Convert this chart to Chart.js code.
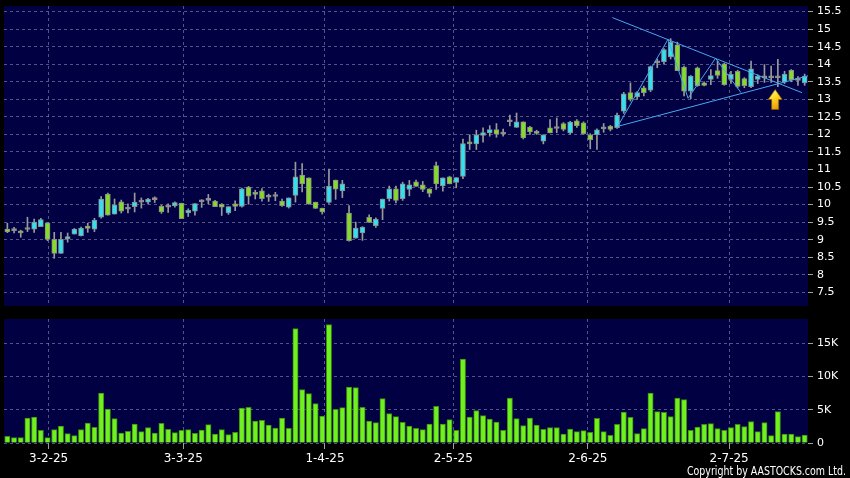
<!DOCTYPE html>
<html>
<head>
<meta charset="utf-8">
<script src="https://cdn.jsdelivr.net/npm/chart.js@4.4.1/dist/chart.umd.min.js"></script>
<style>
  html, body { margin: 0; padding: 0; background: #000; }
  #wrap { position: relative; width: 850px; height: 478px; background: #000; overflow: hidden; }
  #priceBox { position: absolute; left: 0; top: 0; width: 850px; height: 310px; }
  #volBox { position: absolute; left: 0; top: 310px; width: 850px; height: 168px; }
</style>
</head>
<body>
<div id="wrap">
  <div id="priceBox"><canvas id="priceChart" width="850" height="310"></canvas></div>
  <div id="volBox"><canvas id="volChart" width="850" height="168"></canvas></div>
</div>
<script>
// ---- data (daily candles, 21 Jan 2025 - mid Jul 2025) ----
const opens = [
  9.30, 9.26, 9.25, 9.29, 9.30, 9.37, 9.48, 9.01, 8.61, 9.02,
  9.16, 9.11, 9.39, 9.30, 9.64, 10.30, 9.73, 10.08, 9.87, 9.94,
  10.07, 10.07, 10.14, 9.95, 9.93, 9.96, 10.04, 9.76, 9.81, 10.08,
  10.12, 10.10, 10.01, 9.76, 10.02, 9.95, 10.50, 10.31, 10.39, 10.21,
  10.23, 10.10, 9.93, 10.26, 10.84, 10.76, 10.07, 9.90, 10.06, 10.70,
  10.39, 9.76, 9.04, 9.19, 9.64, 9.40, 9.89, 10.17, 10.45, 10.17,
  10.43, 10.65, 10.56, 10.45, 11.11, 10.53, 10.79, 10.63, 10.80, 11.78,
  11.73, 11.97, 12.04, 12.14, 12.01, 12.36, 12.20, 12.36, 12.21, 12.06,
  11.81, 12.19, 12.17, 12.31, 12.04, 12.39, 12.33, 11.99, 11.99, 12.16,
  12.23, 12.19, 12.66, 13.19, 13.07, 13.33, 13.26, 14.04, 14.07, 14.21,
  14.55, 13.92, 13.23, 13.90, 13.47, 13.57, 13.82, 14.01, 13.57, 13.80,
  13.59, 13.36, 13.57, 13.61, 13.61, 13.61, 13.49, 13.83, 13.54, 13.47
];
const highs = [
  9.47, 9.35, 9.27, 9.64, 9.59, 9.61, 9.48, 9.21, 9.21, 9.19,
  9.32, 9.36, 9.47, 9.61, 10.23, 10.33, 10.16, 10.13, 10.02, 10.33,
  10.19, 10.18, 10.22, 9.98, 10.02, 10.08, 10.04, 9.88, 10.03, 10.14,
  10.29, 10.12, 10.03, 9.94, 10.11, 10.47, 10.52, 10.41, 10.46, 10.30,
  10.35, 10.16, 10.19, 11.21, 11.17, 10.76, 10.07, 9.90, 11.01, 10.70,
  10.69, 9.97, 9.50, 9.37, 9.71, 9.62, 10.16, 10.53, 10.53, 10.64,
  10.69, 10.70, 10.66, 10.45, 11.21, 10.76, 10.81, 10.77, 11.87, 11.99,
  12.12, 12.19, 12.25, 12.31, 12.15, 12.55, 12.61, 12.36, 12.23, 12.12,
  11.99, 12.42, 12.47, 12.34, 12.37, 12.42, 12.36, 12.02, 12.16, 12.31,
  12.26, 12.61, 13.20, 13.47, 13.22, 13.38, 13.95, 14.15, 14.45, 14.73,
  14.63, 13.95, 13.68, 13.92, 13.50, 13.85, 14.09, 14.03, 13.80, 13.83,
  13.62, 14.09, 13.70, 13.99, 13.95, 14.14, 13.80, 13.85, 13.65, 13.72
];
const lows = [
  9.20, 9.19, 9.07, 9.23, 9.21, 9.37, 8.97, 8.47, 8.61, 8.93,
  9.16, 9.11, 9.21, 9.23, 9.61, 9.70, 9.73, 9.76, 9.76, 9.79,
  9.90, 10.02, 10.06, 9.75, 9.78, 9.93, 9.60, 9.66, 9.70, 9.92,
  10.02, 9.94, 9.69, 9.72, 9.83, 9.93, 10.01, 10.16, 10.10, 10.09,
  10.11, 9.95, 9.90, 10.07, 10.36, 10.01, 9.89, 9.73, 10.03, 10.15,
  10.20, 8.96, 9.04, 8.98, 9.49, 9.35, 9.57, 10.10, 10.05, 10.12,
  10.25, 10.52, 10.37, 10.22, 10.43, 10.38, 10.59, 10.48, 10.74, 11.57,
  11.57, 11.78, 11.95, 11.92, 11.95, 12.24, 12.20, 11.87, 12.00, 12.00,
  11.73, 12.04, 12.05, 12.10, 12.01, 12.20, 12.00, 11.59, 11.57, 12.06,
  12.10, 12.17, 12.60, 12.95, 13.00, 13.10, 13.22, 13.90, 14.00, 14.15,
  13.82, 13.10, 13.02, 13.37, 13.38, 13.42, 13.60, 13.40, 13.45, 13.33,
  13.33, 13.33, 13.45, 13.48, 13.48, 13.36, 13.45, 13.50, 13.40, 13.40
];
const closes = [
  9.22, 9.26, 9.19, 9.29, 9.50, 9.57, 9.01, 8.61, 9.01, 9.09,
  9.30, 9.33, 9.32, 9.56, 10.16, 9.70, 9.99, 9.81, 9.87, 10.07,
  10.07, 10.16, 10.14, 9.79, 9.93, 10.06, 9.60, 9.84, 10.03, 10.08,
  10.12, 9.94, 9.93, 9.94, 9.95, 10.45, 10.24, 10.29, 10.17, 10.21,
  10.23, 9.97, 10.19, 10.79, 10.59, 10.01, 9.89, 9.79, 10.53, 10.44,
  10.59, 8.97, 9.33, 9.36, 9.49, 9.59, 10.16, 10.45, 10.12, 10.59,
  10.56, 10.52, 10.43, 10.32, 10.59, 10.76, 10.59, 10.77, 11.74, 11.73,
  11.99, 12.05, 12.14, 12.01, 12.01, 12.36, 12.36, 11.90, 12.07, 12.03,
  11.99, 12.04, 12.17, 12.14, 12.35, 12.25, 12.02, 11.85, 12.13, 12.16,
  12.14, 12.55, 13.16, 13.00, 13.19, 13.19, 13.93, 14.04, 14.42, 14.63,
  13.82, 13.23, 13.66, 13.39, 13.40, 13.68, 13.68, 13.42, 13.71, 13.37,
  13.39, 13.87, 13.66, 13.61, 13.61, 13.61, 13.72, 13.55, 13.54, 13.66
];
const volumes = [
  1000, 800, 800, 3750, 3900, 1900, 800, 2000, 2550, 1400,
  1100, 2000, 3000, 2350, 7500, 5100, 3650, 1500, 1750, 2850,
  1700, 2300, 1500, 2950, 2050, 1550, 1900, 2000, 1450, 1950,
  2750, 1350, 2000, 1250, 1600, 5250, 5350, 3300, 3400, 2700,
  2250, 3750, 2200, 17150, 8000, 7400, 5900, 4050, 17750, 5050,
  5300, 8400, 8300, 5350, 3300, 3050, 6650, 4400, 3950, 3100,
  2550, 2200, 2000, 2850, 5500, 2850, 3500, 1900, 12600, 3900,
  4850, 4100, 3600, 3150, 1900, 6750, 3650, 2600, 3750, 2700,
  2050, 2300, 2300, 1350, 2100, 1700, 1850, 1600, 3700, 1700,
  1150, 2800, 4650, 3850, 1400, 2150, 7500, 4700, 4600, 3950,
  6750, 6500, 1900, 2400, 2800, 2900, 2150, 1900, 2300, 2800,
  2450, 3200, 1700, 3050, 1100, 4700, 1350, 1350, 950, 1200
];

// date ticks (position in candle index units) and their labels
const dateLabels = ['3-2-25', '3-3-25', '1-4-25', '2-5-25', '2-6-25', '2-7-25'];
const datePos = [6.16, 26.26, 47.41, 66.55, 86.65, 107.73];

const priceTicks = [7.5, 8, 8.5, 9, 9.5, 10, 10.5, 11, 11.5, 12, 12.5, 13, 13.5, 14, 14.5, 15, 15.5];
const volTicks = [0, 5000, 10000, 15000];

// hand-drawn triangle on the chart
const upperTrend = [{x: 90.3, y: 15.33}, {x: 118.6, y: 13.19}];
const lowerTrend = [{x: 91.1, y: 12.23}, {x: 119.5, y: 13.67}];
const zigzag = [{x: 91.1, y: 12.23}, {x: 98.6, y: 14.71}, {x: 101.6, y: 13.03}, {x: 105.7, y: 14.17}, {x: 109.5, y: 13.19}];
const arrowMark = {x: 114.6, top: 13.28, bottom: 12.71};

// ---- look ----
Chart.defaults.font.family = "'DejaVu Sans', Verdana, sans-serif";
Chart.defaults.color = '#ffffff';
Chart.defaults.animation = false;

const NAVY = '#000042';
const GRID = 'rgba(140, 140, 180, 0.6)';
const UP = '#33e0f0';
const DOWN = '#84dc28';
const FLAT = '#9a9a9a';
const TREND = '#4aa6ee';

const idx = opens.map((_, i) => i);
const bodyData = idx.map(i => ({x: i, y: [Math.min(opens[i], closes[i]), Math.max(opens[i], closes[i])]}));
const wickData = idx.map(i => ({x: i, y: [lows[i], highs[i]]}));
const bodyColors = idx.map(i => closes[i] > opens[i] ? UP : (closes[i] < opens[i] ? DOWN : FLAT));

const panelBg = {
  id: 'panelBg',
  beforeDraw(chart) {
    const {ctx, chartArea: a} = chart;
    ctx.save();
    ctx.fillStyle = '#000';
    ctx.fillRect(0, 0, chart.width, chart.height);
    ctx.fillStyle = NAVY;
    ctx.fillRect(a.left, a.top, a.right - a.left, a.bottom - a.top);
    ctx.restore();
  }
};

const arrowPlugin = {
  id: 'arrowMark',
  afterDatasetsDraw(chart) {
    const {ctx, scales: {x, y}} = chart;
    const cx = x.getPixelForValue(arrowMark.x);
    const top = y.getPixelForValue(arrowMark.top);
    const bot = y.getPixelForValue(arrowMark.bottom);
    const neck = top + (bot - top) * 0.5;
    ctx.save();
    const g = ctx.createLinearGradient(cx - 7, top, cx + 5, bot);
    g.addColorStop(0, '#fff8b0');
    g.addColorStop(0.45, '#ffd524');
    g.addColorStop(1, '#e08e00');
    ctx.beginPath();
    ctx.moveTo(cx, top);
    ctx.lineTo(cx + 7, neck);
    ctx.lineTo(cx + 3.5, neck);
    ctx.lineTo(cx + 3.5, bot);
    ctx.lineTo(cx - 3.5, bot);
    ctx.lineTo(cx - 3.5, neck);
    ctx.lineTo(cx - 7, neck);
    ctx.closePath();
    ctx.fillStyle = g;
    ctx.fill();
    ctx.strokeStyle = '#8a5a00';
    ctx.lineWidth = 0.7;
    ctx.stroke();
    ctx.restore();
  }
};

const copyright = {
  id: 'copyright',
  afterDraw(chart) {
    const ctx = chart.ctx;
    ctx.save();
    ctx.font = "12px 'DejaVu Sans'";
    ctx.fillStyle = '#ffffff';
    ctx.textAlign = 'right';
    ctx.textBaseline = 'middle';
    ctx.fillText('Copyright by AASTOCKS.com Ltd.', 846, 162, 159);
    ctx.restore();
  }
};

// no automatic label padding: the plot areas are fixed
function noPad(s) {
  s.paddingTop = 0;
  s.paddingBottom = 0;
  s.paddingLeft = 0;
  s.paddingRight = 0;
}

function dateAxis(showLabels) {
  return {
    type: 'linear',
    min: -0.5,
    max: 119.5,
    offset: false,
    afterBuildTicks: s => { s.ticks = datePos.map(v => ({value: v})); },
    ticks: {
      display: showLabels,
      autoSkip: false,
      maxRotation: 0,
      padding: 3,
      font: {size: 12},
      color: '#ffffff',
      callback: (v, i) => dateLabels[i]
    },
    grid: { offset: false, color: GRID, drawTicks: showLabels, tickLength: 6, tickColor: '#a0a0a0' },
    border: { display: false, dash: [3, 3] },
    afterFit: s => { s.height = showLabels ? 35 : 0; noPad(s); }
  };
}

function valueAxis(min, max, ticks, fmt) {
  return {
    position: 'right',
    min: min,
    max: max,
    afterBuildTicks: s => { s.ticks = ticks.map(v => ({value: v})); },
    ticks: { font: {size: 11}, color: '#ffffff', padding: 4, callback: fmt },
    grid: { color: GRID, tickLength: 5, tickColor: '#a0a0a0' },
    border: { display: false, dash: [3, 3] },
    afterFit: s => { s.width = 42; noPad(s); }
  };
}

new Chart(document.getElementById('priceChart'), {
  type: 'bar',
  data: {
    datasets: [
      { type: 'line', data: upperTrend, borderColor: TREND, borderWidth: 1, pointRadius: 0, order: 0 },
      { type: 'line', data: lowerTrend, borderColor: TREND, borderWidth: 1, pointRadius: 0, order: 0 },
      { type: 'line', data: zigzag, borderColor: TREND, borderWidth: 1, pointRadius: 0, order: 0 },
      {
        data: bodyData,
        backgroundColor: bodyColors,
        borderColor: '#8c8c8c',
        borderWidth: 1,
        borderSkipped: false,
        barThickness: 5,
        minBarLength: 2,
        grouped: false,
        order: 1
      },
      {
        data: wickData,
        backgroundColor: '#9a9a9a',
        barThickness: 1,
        grouped: false,
        order: 2
      }
    ]
  },
  options: {
    responsive: false,
    devicePixelRatio: 1,
    layout: { padding: { top: 6, left: 4, right: 0, bottom: 4 } },
    plugins: { legend: { display: false }, tooltip: { enabled: false } },
    scales: {
      x: dateAxis(false),
      y: valueAxis(7.11, 15.66, priceTicks, v => String(v))
    }
  },
  plugins: [panelBg, arrowPlugin]
});

new Chart(document.getElementById('volChart'), {
  type: 'bar',
  data: {
    datasets: [{
      data: idx.map(i => ({x: i, y: volumes[i]})),
      backgroundColor: '#70f020',
      borderColor: '#3c8c10',
      borderWidth: 1,
      barThickness: 5.3
    }]
  },
  options: {
    responsive: false,
    devicePixelRatio: 1,
    layout: { padding: { top: 9, left: 4, right: 0, bottom: 0 } },
    plugins: { legend: { display: false }, tooltip: { enabled: false } },
    scales: {
      x: dateAxis(true),
      y: valueAxis(0, 18600, volTicks, v => v === 0 ? '0' : (v / 1000) + 'K')
    }
  },
  plugins: [panelBg, copyright]
});
</script>
</body>
</html>
